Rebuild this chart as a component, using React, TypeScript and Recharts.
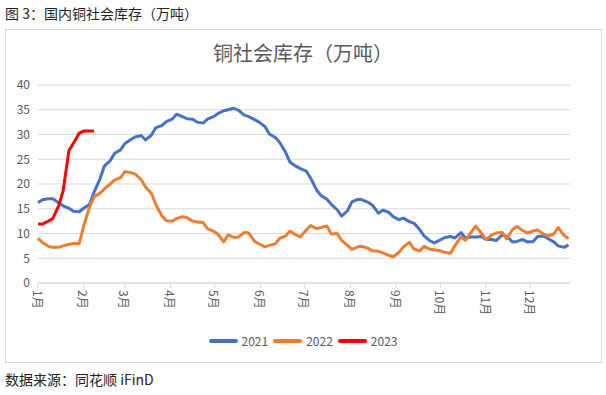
import { LineChart, Line, XAxis, YAxis, CartesianGrid } from 'recharts'

// day of year for each report (Mon / Thu)
const days = [
  0, 3, 7, 10, 14, 17, 21, 24, 28, 31, 35, 38, 42, 45, 49, 52, 56, 59, 63, 66,
  70, 73, 77, 80, 84, 87, 91, 94, 98, 101, 105, 108, 112, 115, 119, 122, 126, 129, 133, 136,
  140, 143, 147, 150, 154, 157, 161, 164, 168, 171, 175, 178, 182, 185, 189, 192, 196, 199, 203, 206,
  210, 213, 217, 220, 224, 227, 231, 234, 238, 241, 245, 248, 252, 255, 259, 262, 266, 269, 273, 276,
  280, 283, 287, 290, 294, 297, 301, 304, 308, 311, 315, 318, 322, 325, 329, 332, 336, 339, 343, 346,
  350, 353, 357, 360,
]

const stock2021 = [
  16.2, 16.8, 17.0, 17.0, 16.2, 15.6, 15.1, 14.5, 14.4, 15.1, 15.9, 18.3, 21.0, 23.6, 24.7, 26.2, 26.9, 28.2, 29.0, 29.5,
  29.8, 28.9, 29.9, 31.4, 31.8, 32.6, 33.1, 34.1, 33.6, 33.2, 33.1, 32.5, 32.3, 33.1, 33.6, 34.2, 34.8, 35.0, 35.3, 34.9,
  33.9, 33.6, 33.0, 32.5, 31.6, 30.1, 29.4, 28.4, 26.4, 24.4, 23.6, 23.1, 22.6, 21.2, 18.8, 17.7, 16.9, 15.9, 14.8, 13.5,
  14.6, 16.4, 16.9, 16.8, 16.3, 15.7, 14.1, 14.7, 14.3, 13.4, 12.8, 13.1, 12.4, 12.1, 10.8, 9.5, 8.5, 8.1, 8.7, 9.2,
  9.4, 9.1, 10.2, 9.1, 9.3, 9.3, 9.4, 8.8, 8.8, 8.6, 9.7, 9.4, 8.3, 8.4, 8.8, 8.3, 8.4, 9.4, 9.5, 9.0,
  8.3, 7.5, 7.2, 7.7,
]

const stock2022 = [
  9.0, 8.2, 7.4, 7.2, 7.2, 7.5, 7.8, 8.0, 8.0, 11.5, 15.4, 17.4, 18.1, 19.0, 20.0, 20.8, 21.3, 22.5, 22.3, 22.0,
  20.9, 19.4, 18.1, 15.8, 13.6, 12.6, 12.5, 13.0, 13.4, 13.2, 12.5, 12.3, 12.2, 11.0, 10.5, 9.9, 8.3, 9.7, 9.2, 9.3,
  10.2, 10.1, 8.4, 7.9, 7.3, 7.6, 7.9, 9.0, 9.5, 10.5, 9.7, 9.3, 10.7, 11.6, 11.0, 11.2, 11.5, 9.9, 10.0, 8.6,
  7.6, 6.8, 7.3, 7.4, 7.0, 6.5, 6.4, 6.1, 5.6, 5.3, 6.2, 7.3, 8.2, 6.9, 6.5, 7.4, 6.8, 6.7, 6.5, 6.2,
  6.0, 7.6, 9.3, 8.6, 10.3, 11.5, 10.0, 8.8, 9.7, 10.1, 10.2, 8.9, 10.8, 11.4, 10.6, 10.1, 10.5, 10.7, 9.9, 9.5,
  9.9, 11.2, 9.6, 9.0,
]

const stock2023 = [11.9, 11.9, 12.5, 13.0, 15.6, 18.5, 26.8, 28.2, 30.3, 30.7, 30.7, 30.7]

const monthStarts = [0, 31, 59, 90, 120, 151, 181, 212, 243, 273, 304, 334]
const monthLabels = ['1月', '2月', '3月', '4月', '5月', '6月', '7月', '8月', '9月', '10月', '11月', '12月']
const yTicks = [0, 5, 10, 15, 20, 25, 30, 35, 40]

const series = [
  { key: 'y2021', name: '2021', color: '#4472C4' },
  { key: 'y2022', name: '2022', color: '#ED7D31' },
  { key: 'y2023', name: '2023', color: '#FF0000' },
]

const chartData = days.map((day, i) => ({
  day,
  y2021: stock2021[i],
  y2022: stock2022[i],
  y2023: i < stock2023.length ? stock2023[i] : null,
}))

const font = '"Noto Sans CJK SC", "Noto Sans", sans-serif'

const MonthTick = ({ x, y, payload }: any) => {
  const idx = monthStarts.indexOf(payload.value)
  return (
    <text
      transform={`translate(${x},${y}) rotate(90)`}
      textAnchor="start"
      dominantBaseline="central"
      fill="#595959"
      fontSize={12}
      fontFamily={font}
    >
      {monthLabels[idx]}
    </text>
  )
}

const App = () => {
  return (
    <div style={{ position: 'absolute', left: 0, top: 0, width: 606, height: 395, background: '#fff', fontFamily: font }}>
      <div style={{ position: 'absolute', left: 5, top: 3, fontSize: 14, color: '#222', whiteSpace: 'nowrap' }}>
        图 3：国内铜社会库存（万吨）
      </div>

      <div style={{
        position: 'absolute',
        left: 5,
        top: 29,
        width: 595,
        height: 332,
        border: '1px solid #d9d9d9',
      }} />

      <div style={{
        position: 'absolute',
        left: 0,
        width: 606,
        top: 38,
        textAlign: 'center',
        fontSize: 20,
        color: '#595959',
      }}>
        铜社会库存（万吨）
      </div>

      <div style={{ position: 'absolute', left: 0, top: 0 }}>
        <LineChart width={606} height={395} data={chartData} margin={{ top: 85, right: 36, left: 8, bottom: 0 }}>
          <CartesianGrid vertical={false} stroke="#d9d9d9" />
          <XAxis
            dataKey="day"
            type="number"
            domain={[0, 361]}
            ticks={monthStarts}
            interval={0}
            height={112}
            stroke="#d9d9d9"
            tickSize={5}
            tickMargin={2}
            tick={<MonthTick />}
          />
          <YAxis
            domain={[0, 40]}
            ticks={yTicks}
            width={30}
            axisLine={false}
            tickLine={false}
            tick={{ fill: '#595959', fontSize: 12, fontFamily: font }}
          />
          {series.map(s => (
            <Line
              key={s.key}
              type="linear"
              dataKey={s.key}
              name={s.name}
              stroke={s.color}
              strokeWidth={3}
              strokeLinejoin="round"
              dot={false}
              isAnimationActive={false}
            />
          ))}
        </LineChart>
      </div>

      <div style={{
        position: 'absolute',
        left: 0,
        width: 606,
        top: 332,
        display: 'flex',
        justifyContent: 'center',
        alignItems: 'center',
        gap: 5,
        fontSize: 12,
        color: '#595959',
      }}>
        {series.map(s => (
          <div key={s.key} style={{ display: 'flex', alignItems: 'center', gap: 4 }}>
            <span style={{ display: 'inline-block', width: 29, height: 4, borderRadius: 2, background: s.color }} />
            <span>{s.name}</span>
          </div>
        ))}
      </div>

      <div style={{ position: 'absolute', left: 5, top: 369, fontSize: 14, color: '#222', whiteSpace: 'nowrap' }}>
        数据来源：同花顺 iFinD
      </div>
    </div>
  )
}

export default App
